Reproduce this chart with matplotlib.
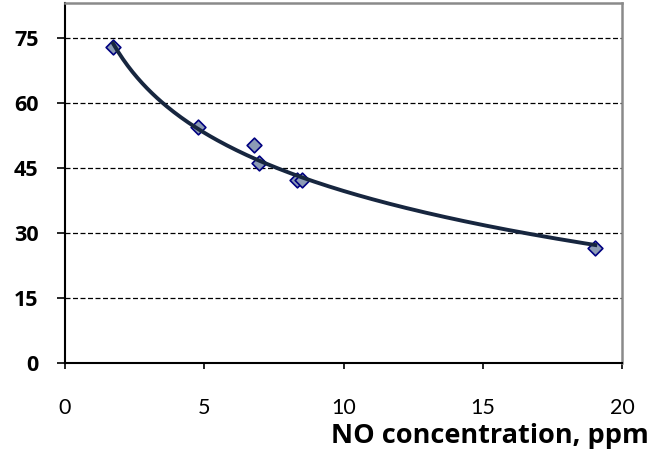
import numpy as np
import matplotlib.pyplot as plt

# measured points
no_ppm = [1.73, 4.78, 6.79, 6.97, 8.32, 8.50, 19.03]
value = [72.9, 54.4, 50.3, 46.2, 42.2, 42.3, 26.6]

x_ticks = [0, 5, 10, 15, 20]
y_ticks = [0, 15, 30, 45, 60, 75]

# logarithmic trendline, as Excel draws it
b, a = np.polyfit(np.log(no_ppm), value, 1)
xs = np.linspace(min(no_ppm), max(no_ppm), 200)
ys = a + b * np.log(xs)

plt.rcParams["font.family"] = ["Lato", "DejaVu Sans"]
bold_font = ["Open Sans", "DejaVu Sans"]

fig = plt.figure(figsize=(6.53, 4.53), dpi=100)
ax = fig.add_axes([0.0995, 0.199, 0.8535, 0.7935])

ax.scatter(no_ppm, value, marker="D", s=7.5 ** 2, facecolor="#8c9bb5",
           edgecolor="#000080", linewidth=1.2, zorder=3)
ax.plot(xs, ys, color="#17263f", lw=2.8, zorder=4)

ax.set_xlim(0, 20)
ax.set_ylim(0, 83)
ax.set_xticks(x_ticks)
ax.set_yticks(y_ticks)
ax.set_xticklabels([str(t) for t in x_ticks], fontsize=15.5)
ax.set_yticklabels([str(t) for t in y_ticks], fontsize=15.5, fontweight="bold",
                   family=bold_font)

for yv in y_ticks[1:]:
    ax.axhline(yv, color="black", lw=0.9, ls=(0, (4, 2)), zorder=1)

ax.tick_params(axis="y", length=6, width=1.2, pad=13, direction="out")
ax.tick_params(axis="x", length=4.5, width=1.2, pad=21, direction="out")

for side in ["left", "bottom"]:
    ax.spines[side].set_color("black")
    ax.spines[side].set_linewidth(1.5)
for side in ["top", "right"]:
    ax.spines[side].set_color("#8a8a8a")
    ax.spines[side].set_linewidth(1.8)

fig.text(0.993, 0.022, "NO concentration, ppm", fontsize=19.5, fontweight="bold",
         family=bold_font, ha="right", va="baseline")

fig.savefig("out.png", dpi=100)
